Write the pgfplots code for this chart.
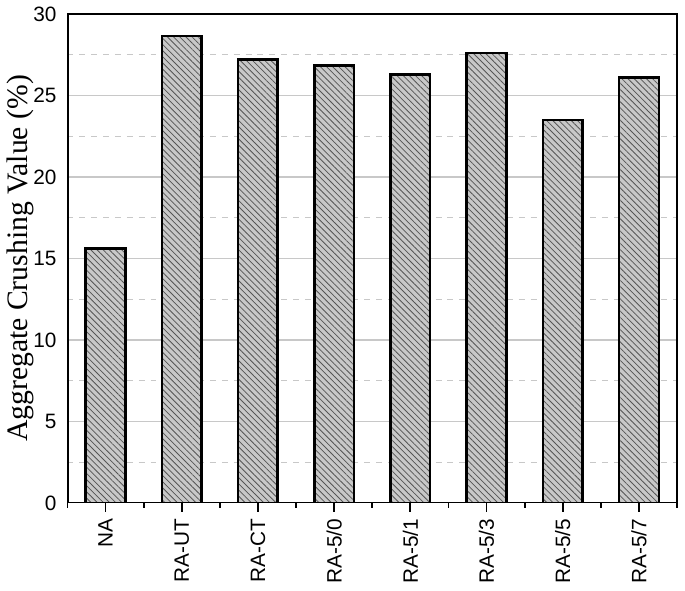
\documentclass[border=0pt]{standalone}
\usepackage{fontspec}
\setmainfont{Liberation Sans}
\newfontfamily\timesfont{Liberation Serif}
\usepackage{pgfplots}
\pgfplotsset{compat=1.18}
\usetikzlibrary{patterns.meta}
\definecolor{barfill}{HTML}{C8C8C8}
\definecolor{hatch}{HTML}{555555}
\definecolor{gridgray}{HTML}{C8C8C8}

\begin{document}
\begin{tikzpicture}
\begin{axis}[
    scale only axis,
    width=308pt, height=247pt,
    xmin=-0.5, xmax=7.5,
    ymin=0, ymax=30,
    xtick={0,...,7},
    xticklabels={NA,RA-UT,RA-CT,RA-5/0,RA-5/1,RA-5/3,RA-5/5,RA-5/7},
    minor xtick={-0.5,0.5,...,7.5},
    ytick={0,5,...,30},
    minor ytick={2.5,7.5,...,27.5},
    ymajorgrids, yminorgrids,
    major grid style={gridgray, line width=0.6pt},
    minor grid style={gridgray, dashed, line width=0.5pt},
    xtick pos=left, ytick pos=left,
    tick align=outside,
    major tick length=4.5pt, minor tick length=2.5pt,
    ytick style={draw=none},
    xtick style={black, line width=0.9pt},
    axis line style={black, line width=0.6pt},
    ticklabel style={font=\fontsize{10.5}{12}\selectfont},
    /pgf/number format/assume math mode=true,
    xticklabel style={rotate=90, anchor=east},
    yticklabel style={xshift=2.5pt},
    ylabel={\timesfont Aggregate Crushing Value (\%)},
    ylabel style={font=\fontsize{15}{18}\selectfont},
    ylabel shift=-7pt,
    ybar, bar width=0.52, bar shift=0pt,
  ]
\addplot[fill=barfill, draw=none]
  coordinates {(0,15.6) (1,28.65) (2,27.2) (3,26.85) (4,26.3) (5,27.6) (6,23.5) (7,26.1)};
\addplot[draw=black, line width=1.3pt,
  pattern={Lines[angle=-45,distance=2.2pt,line width=0.4pt]}, pattern color=hatch]
  coordinates {(0,15.6) (1,28.65) (2,27.2) (3,26.85) (4,26.3) (5,27.6) (6,23.5) (7,26.1)};
\draw[black, line width=1.1pt] (rel axis cs:0,1) -- (rel axis cs:0,0) -- (rel axis cs:1,0);
\coordinate (tr) at (rel axis cs:1,1);
\end{axis}
\path (tr) ++(4pt,2pt) coordinate (pad);
\path (pad) -- (pad);
\end{tikzpicture}
\end{document}
